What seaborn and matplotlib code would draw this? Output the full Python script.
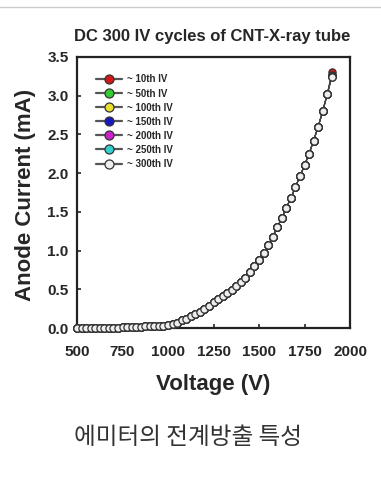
import numpy as np
import pandas as pd
import matplotlib
matplotlib.use("Agg")
import matplotlib.pyplot as plt
from matplotlib.lines import Line2D
import seaborn as sns

# voltage sweep (V) and anode current (mA)
voltage = [500, 525, 550, 575, 600, 625, 650, 675, 700, 725,
           750, 775, 800, 825, 850, 875, 900, 925, 950, 975,
           1000, 1025, 1050, 1075, 1100, 1125, 1150, 1175, 1200, 1225,
           1250, 1275, 1300, 1325, 1350, 1375, 1400, 1425, 1450, 1475,
           1500, 1525, 1550, 1575, 1600, 1625, 1650, 1675, 1700, 1725,
           1750, 1775, 1800, 1825, 1850, 1875, 1900]
current = [0.00, 0.00, 0.00, 0.00, 0.00, 0.00, 0.00, 0.00, 0.00, 0.00,
           0.01, 0.01, 0.01, 0.01, 0.01, 0.02, 0.02, 0.02, 0.03, 0.03,
           0.04, 0.05, 0.07, 0.10, 0.12, 0.15, 0.18, 0.21, 0.25, 0.29,
           0.33, 0.37, 0.41, 0.45, 0.49, 0.54, 0.59, 0.65, 0.72, 0.80,
           0.88, 0.97, 1.07, 1.18, 1.30, 1.42, 1.55, 1.68, 1.82, 1.96,
           2.10, 2.25, 2.42, 2.60, 2.80, 3.02, 3.28]
# the cycles only separate at the very last point
end_current = [3.30, 3.27, 3.26, 3.25, 3.25, 3.24, 3.24]
cycles = ["~ 10th IV", "~ 50th IV", "~ 100th IV", "~ 150th IV",
          "~ 200th IV", "~ 250th IV", "~ 300th IV"]
colors = ["#d01818", "#33cc33", "#e8e030", "#1818c0", "#cc22cc", "#33d0d0", "#eeeeee"]

sns.set_style("ticks")
plt.rcParams["font.family"] = ["Liberation Sans", "DejaVu Sans"]
plt.rcParams["font.weight"] = "bold"

fig = plt.figure(figsize=(3.81, 4.87), dpi=100)
ax = fig.add_axes([77 / 381, 1 - 328 / 487, 273 / 381, 271 / 487])

for name, col, last in zip(cycles, colors, end_current):
    df = pd.DataFrame({"V": voltage, "I": current[:-1] + [last]})
    sns.lineplot(data=df, x="V", y="I", ax=ax, color="#444444", lw=0.8,
                 marker="o", markersize=5.2, markerfacecolor=col,
                 markeredgecolor="#333333", markeredgewidth=0.9, label=name,
                 clip_on=False, zorder=3)

ax.set_xlim(500, 2000)
ax.set_ylim(0, 3.5)
ax.set_xticks([500, 750, 1000, 1250, 1500, 1750, 2000])
ax.set_yticks(np.arange(0, 3.51, 0.5))
ax.yaxis.set_major_formatter(matplotlib.ticker.FormatStrFormatter("%.1f"))
ax.tick_params(direction="in", length=3, width=1.2, labelsize=11, pad=6)
ax.tick_params(axis="x", pad=12)
for s in ax.spines.values():
    s.set_visible(True)
    s.set_linewidth(1.6)
    s.set_color("#222222")

ax.set_xlabel("Voltage (V)", fontsize=16, fontweight="bold")
ax.set_ylabel("Anode Current (mA)", fontsize=16, fontweight="bold")
ax.xaxis.set_label_coords(0.5, -0.17)
ax.yaxis.set_label_coords(-0.15, 0.49)

leg = ax.legend(loc="upper left", bbox_to_anchor=(0.055, 0.95), frameon=False,
                fontsize=7, handlelength=2.7, handletextpad=0.45,
                labelspacing=0.42, markerscale=1.25, borderaxespad=0)
for h in leg.legend_handles:
    h.set_color("#555555")
    h.set_linewidth(1.6)

fig.text(0.557, 1 - 37 / 487, "DC 300 IV cycles of CNT-X-ray tube",
         ha="center", va="center", fontsize=12, fontweight="bold")
fig.text(0.494, 1 - 438 / 487, "에미터의 전계방출 특성", ha="center", va="center",
         fontsize=17, fontweight="normal", color="#333333",
         family=["Noto Sans CJK KR", "DejaVu Sans"])
fig.add_artist(Line2D([0, 1], [1 - 7 / 487, 1 - 7 / 487], color="#cccccc", lw=1))

fig.savefig("out.png", dpi=100, facecolor="white")
